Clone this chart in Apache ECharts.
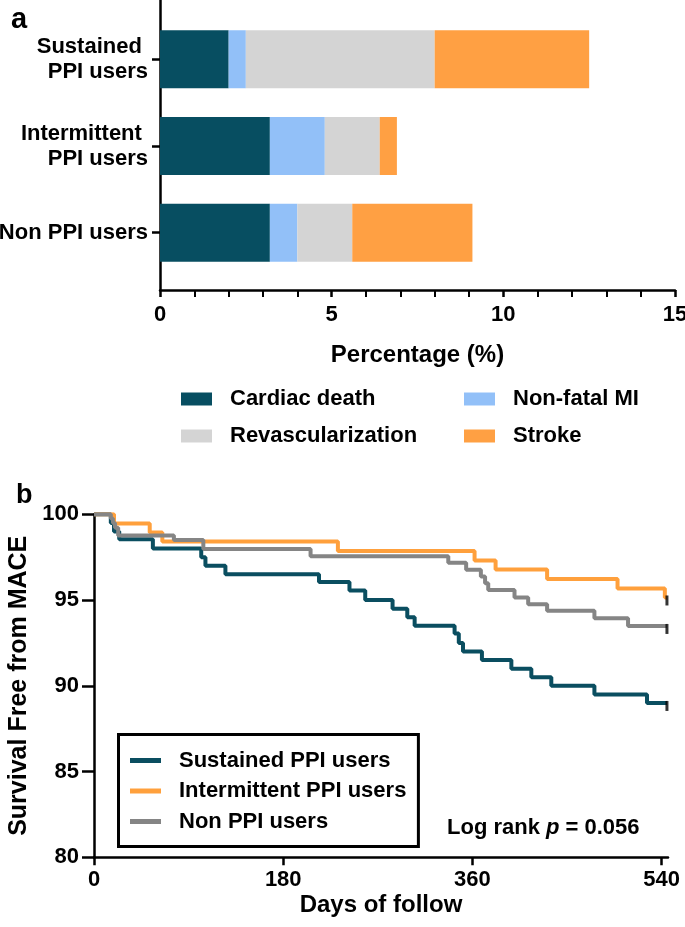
<!DOCTYPE html>
<html><head><meta charset="utf-8">
<script src="https://cdn.jsdelivr.net/npm/echarts@6/dist/echarts.min.js"></script>
<style>html,body{margin:0;padding:0;background:#fff}#c{width:685px;height:927px}</style>
</head><body><div id="c"></div><script>
const FONT = '"Liberation Sans", Arial, Helvetica, sans-serif';

// ---- Panel a: stacked bars (percentage) ----
const categories = ['Sustained \nPPI users', 'Intermittent \nPPI users', 'Non PPI users'];
const cardiacDeath = [2.0, 3.2, 3.2];
const nonFatalMI = [0.5, 1.6, 0.8];
const revascularization = [5.5, 1.6, 1.6];
const stroke = [4.5, 0.5, 3.5];
const percentTicks = [0, 5, 10, 15];

// ---- Panel b: Kaplan-Meier survival free from MACE ----
const sustainedDays = [0, 16, 19, 24, 56, 102, 106, 125, 214, 243, 258, 284, 298, 305, 343, 347, 351, 369, 397, 416, 435, 476, 526, 545];
const sustainedSurv = [100, 99.5, 99.0, 98.55, 98.0, 97.5, 97.0, 96.5, 96.05, 95.55, 95.0, 94.5, 94.0, 93.5, 93.05, 92.5, 92.0, 91.5, 91.0, 90.5, 90.0, 89.5, 89.0, 89.0];
const intermittentDays = [0, 19, 53, 65, 232, 362, 382, 431, 498, 543, 545];
const intermittentSurv = [100, 99.47, 98.94, 98.42, 97.86, 97.31, 96.78, 96.23, 95.68, 95.15, 95.15];
const nonDays = [0, 16, 18, 20, 23, 76, 104, 206, 337, 354, 368, 372, 375, 400, 413, 431, 476, 508, 545];
const nonSurv = [100, 99.76, 99.5, 99.22, 98.77, 98.5, 97.98, 97.55, 97.17, 96.76, 96.37, 95.98, 95.59, 95.15, 94.76, 94.37, 93.94, 93.49, 93.49];
const dayTicks = [0, 180, 360, 540];
const survTicks = [80, 85, 90, 95, 100];

const zip = (a, b) => a.map((v, i) => [v, b[i]]);
const last = (a, b) => [a[a.length - 1], b[b.length - 1]];

const C = {
  cardiac: '#074E61', nfmi: '#92C0F8', revasc: '#D4D4D4', stroke: '#FFA043',
  sus: '#0A4E60', inter: '#FFA03C', non: '#858585'
};
const txt = (size) => ({ fontFamily: FONT, fontWeight: 'bold', fontSize: size, color: '#000' });
const blackLine = (w) => ({ color: '#000', width: w });

function barLegend(name, left, top) {
  return {
    data: [name], left: left, top: top, padding: 0, selectedMode: false,
    icon: 'rect', itemWidth: 31, itemHeight: 13,
    textStyle: Object.assign(txt(22), { padding: [0, 0, 0, 13], lineHeight: 22 })
  };
}

const chart = echarts.init(document.getElementById('c'), null, { renderer: 'canvas' });
chart.setOption({
  animation: false,
  backgroundColor: '#fff',
  title: [
    { text: 'a', left: 11, top: 5, padding: 0, textStyle: txt(29) },
    { text: 'b', left: 16, top: 482, padding: 0, textStyle: txt(27) },
    {
      text: '{n|Log rank }{i|p}{n| = 0.056}', left: 447, top: 817, padding: 0,
      textStyle: { rich: { n: txt(22), i: Object.assign(txt(22), { fontStyle: 'italic' }) } }
    }
  ],
  legend: [
    barLegend('Cardiac death', 181, 388),
    barLegend('Non-fatal MI', 464, 388),
    barLegend('Revascularization', 181, 425),
    barLegend('Stroke', 464, 425),
    {
      data: ['Sustained PPI users', 'Intermittent PPI users', 'Non PPI users'],
      orient: 'vertical', left: 118.5, top: 734.5, selectedMode: false,
      padding: [14, 12, 13, 11.5], itemGap: 6.5,
      borderColor: '#000', borderWidth: 3,
      icon: 'rect', itemWidth: 31, itemHeight: 5,
      textStyle: Object.assign(txt(22), { padding: [0, 0, 0, 13], lineHeight: 24 })
    }
  ],
  grid: [
    { left: 160, top: 16, width: 515, height: 260, outerBoundsMode: 'none', containLabel: false },
    { left: 160, top: 0, width: 515, height: 290, outerBoundsMode: 'none', containLabel: false },
    { left: 94, top: 514.3, width: 574, height: 343, outerBoundsMode: 'none', containLabel: false }
  ],
  xAxis: [
    { gridIndex: 0, type: 'value', min: 0, max: 15, show: false },
    {
      gridIndex: 1, type: 'value', min: percentTicks[0], max: percentTicks[percentTicks.length - 1], interval: 5,
      axisLine: { show: true, onZero: false, lineStyle: blackLine(2.5) },
      axisTick: { show: true, length: 7, lineStyle: blackLine(2.5) },
      minorTick: { show: true, splitNumber: 5, length: 7, lineStyle: blackLine(2) },
      splitLine: { show: false }, minorSplitLine: { show: false },
      axisLabel: Object.assign(txt(22), { margin: 14 }),
      name: 'Percentage (%)', nameLocation: 'middle', nameGap: 53, nameTextStyle: txt(24)
    },
    {
      gridIndex: 2, type: 'value', min: 0, max: 546, interval: 180,
      axisLine: { show: true, onZero: false, lineStyle: blackLine(2.5) },
      axisTick: { show: true, length: 8, lineStyle: blackLine(2.5), customValues: dayTicks },
      splitLine: { show: false },
      axisLabel: Object.assign(txt(22), { margin: 12, customValues: dayTicks }),
      name: 'Days of follow', nameLocation: 'middle', nameGap: 36, nameTextStyle: txt(24)
    }
  ],
  yAxis: [
    {
      gridIndex: 0, type: 'category', data: categories, inverse: true,
      axisLine: { show: false },
      axisTick: { show: true, alignWithLabel: true, length: 8, lineStyle: blackLine(2.5) },
      axisLabel: Object.assign(txt(22), { margin: 12, lineHeight: 25 }),
      splitLine: { show: false }
    },
    {
      gridIndex: 1, type: 'value', min: 0, max: 1,
      axisLine: { show: true, onZero: false, lineStyle: blackLine(2.5) },
      axisTick: { show: false }, axisLabel: { show: false }, splitLine: { show: false }
    },
    {
      gridIndex: 2, type: 'value', min: survTicks[0], max: survTicks[survTicks.length - 1], interval: 5,
      axisLine: { show: true, onZero: false, lineStyle: blackLine(2.5) },
      axisTick: { show: true, length: 12, lineStyle: blackLine(2.5) },
      axisLabel: Object.assign(txt(22), { margin: 15 }),
      splitLine: { show: false },
      name: 'Survival Free from MACE', nameLocation: 'middle', nameRotate: 90, nameGap: 56, nameTextStyle: txt(25)
    }
  ],
  series: [
    { name: 'Cardiac death', type: 'bar', stack: 'a', xAxisIndex: 0, yAxisIndex: 0, barWidth: 58, data: cardiacDeath, itemStyle: { color: C.cardiac } },
    { name: 'Non-fatal MI', type: 'bar', stack: 'a', xAxisIndex: 0, yAxisIndex: 0, barWidth: 58, data: nonFatalMI, itemStyle: { color: C.nfmi } },
    { name: 'Revascularization', type: 'bar', stack: 'a', xAxisIndex: 0, yAxisIndex: 0, barWidth: 58, data: revascularization, itemStyle: { color: C.revasc } },
    { name: 'Stroke', type: 'bar', stack: 'a', xAxisIndex: 0, yAxisIndex: 0, barWidth: 58, data: stroke, itemStyle: { color: C.stroke } },

    { name: 'Sustained PPI users', type: 'line', step: 'end', xAxisIndex: 2, yAxisIndex: 2, showSymbol: false,
      data: zip(sustainedDays, sustainedSurv), color: C.sus, lineStyle: { color: C.sus, width: 4 } },
    { name: 'Intermittent PPI users', type: 'line', step: 'end', xAxisIndex: 2, yAxisIndex: 2, showSymbol: false,
      data: zip(intermittentDays, intermittentSurv), color: C.inter, lineStyle: { color: C.inter, width: 4 } },
    { name: 'Non PPI users', type: 'line', step: 'end', xAxisIndex: 2, yAxisIndex: 2, showSymbol: false,
      data: zip(nonDays, nonSurv), color: C.non, lineStyle: { color: C.non, width: 4 } },
    { name: 'censored', type: 'scatter', xAxisIndex: 2, yAxisIndex: 2, z: 5,
      symbol: 'rect', symbolSize: [3, 10], symbolOffset: [0, 3], itemStyle: { color: '#000' },
      data: [last(sustainedDays, sustainedSurv), last(intermittentDays, intermittentSurv), last(nonDays, nonSurv)] }
  ]
});
</script></body></html>
